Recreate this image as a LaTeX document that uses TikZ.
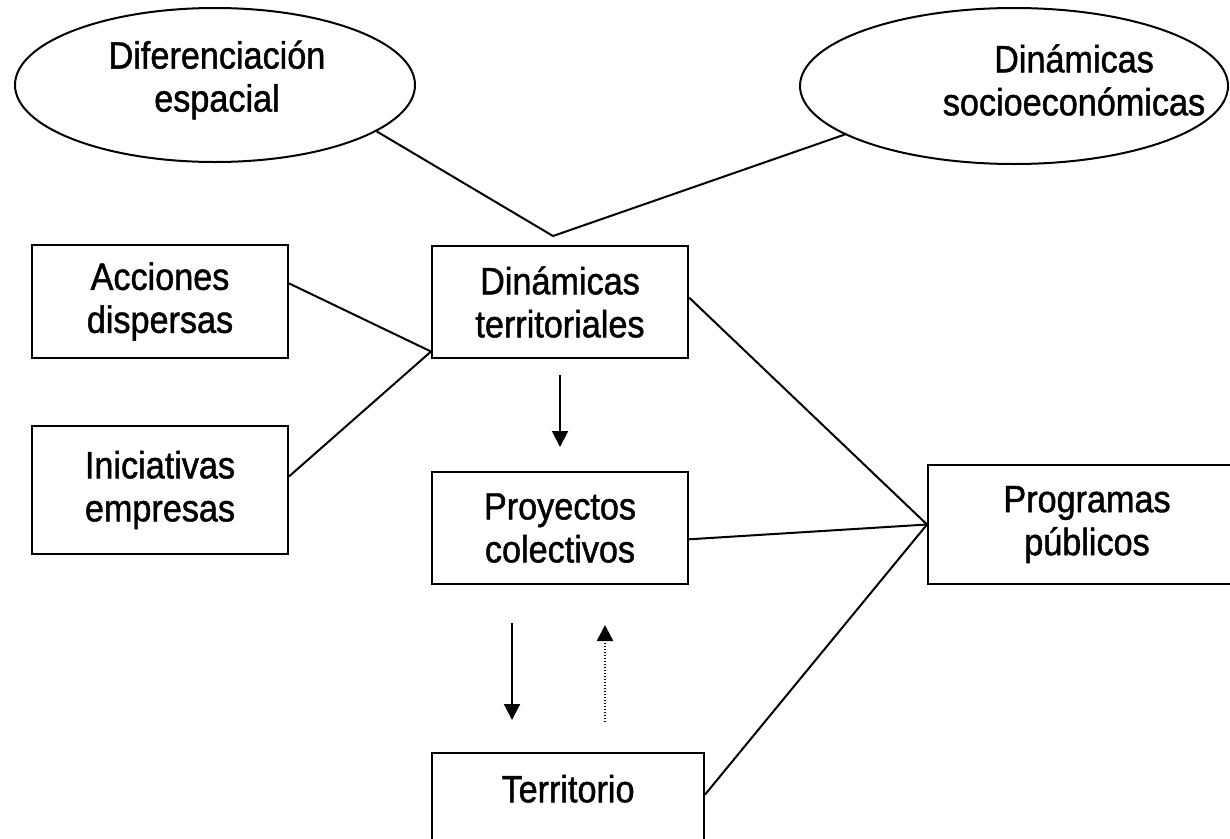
\documentclass[tikz,border=0pt]{standalone}
\usepackage{fontspec}
\setmainfont[FakeStretch=0.9,FakeBold=1.2]{Liberation Sans}
\usetikzlibrary{shapes.geometric,arrows.meta}

\tikzset{
	caja/.style={draw, line width=2pt, align=center, inner sep=0pt, font=\fontsize{38}{43}\selectfont},
	elipse/.style={draw, ellipse, line width=2pt, inner sep=0pt},
	texto/.style={align=center, inner sep=0pt, font=\fontsize{38}{43}\selectfont},
	linea/.style={line width=2pt},
	flecha/.style={line width=2pt, -{Triangle[width=16pt,length=16pt]}},
}

\begin{document}
\begin{tikzpicture}[x=1pt,y=-1pt]
	\useasboundingbox (0,0) rectangle (1230,838);
	
	%%% Elipses
	\node[elipse, minimum width=400pt, minimum height=154pt] (dif) at (215,85) {};
	\node[texto] (difT) at (217,80) {Diferenciación\\espacial};
	\node[elipse, minimum width=428pt, minimum height=156pt] (socio) at (1014,86) {};
	\node[texto] (socioT) at (1074,80) {Dinámicas\\socioeconómicas};
	
	%%% Cajas
	\node[caja, minimum width=256pt, minimum height=113pt] (acc) at (160,301.5) {Acciones\\dispersas};
	\node[caja, minimum width=256pt, minimum height=112pt] (dyn) at (560,302) {Dinámicas\\territoriales};
	\node[caja, minimum width=256pt, minimum height=128pt] (ini) at (160,490) {Iniciativas\\empresas};
	\node[caja, minimum width=256pt, minimum height=112pt] (proy) at (560,528) {Proyectos\\colectivos};
	\node[caja, minimum width=318pt, minimum height=119pt] (prog) at (1087,524.5) {Programas\\públicos};
	\node[caja, minimum width=272pt, minimum height=112pt, text depth=41pt] (terr) at (568,809) {Territorio};
	
	%%% Lineas
	\coordinate (vertice) at (553,236);
	\draw[linea] (dif.-16) -- (vertice) -- (socio.-164);
	
	\draw[linea] (acc.8) -- (dyn.201);
	\draw[linea] (ini.6) -- (dyn.201);
	
	\draw[linea] (dyn.2) -- (prog.west);
	\draw[linea] (proy.-5) -- (prog.west);
	\draw[linea] (terr.6) -- (prog.west);
	
	%%% Flechas
	\coordinate (f1a) at (560,375);
	\coordinate (f1b) at (560,447);
	\draw[flecha] (f1a) -- (f1b);
	
	\coordinate (f2a) at (512,623);
	\coordinate (f2b) at (512,720);
	\draw[flecha] (f2a) -- (f2b);
	
	\coordinate (f3a) at (605,722);
	\coordinate (f3b) at (605,625);
	\draw[flecha, line width=2.5pt, dash pattern=on 1.5pt off 1.5pt] (f3a) -- (f3b);
\end{tikzpicture}
\end{document}
